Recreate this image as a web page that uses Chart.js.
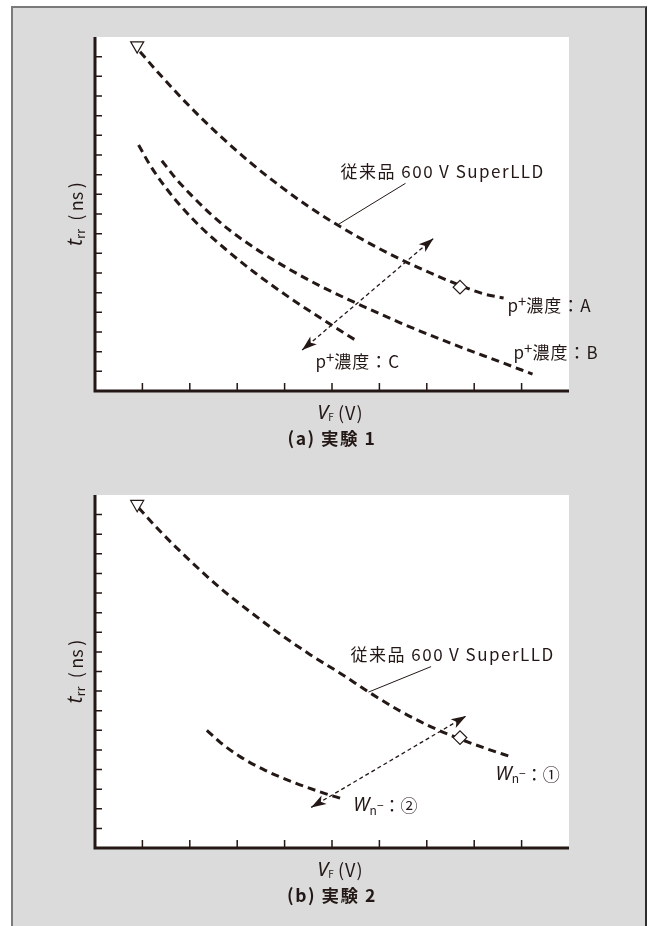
<!DOCTYPE html>
<html>
<head>
<meta charset="utf-8">
<script src="https://cdn.jsdelivr.net/npm/chart.js@4.4.0/dist/chart.umd.min.js"></script>
<style>
  html, body { margin: 0; padding: 0; background: #fff; }
  body { width: 648px; height: 926px; position: relative; overflow: hidden; }
  .frame { position: absolute; left: 11px; top: 6px; width: 632px; height: 940px; background: #dbdbdb;
           border-left: 2px solid #7a7a7a; border-top: 2px solid #7a7a7a; border-right: 2px solid #2e2e2e; }
  canvas { position: absolute; left: 0; }
  #chartA { top: 0; }
  #chartB { top: 458px; }
</style>
</head>
<body>
<div class="frame"></div>
<canvas id="chartA" width="648" height="460" style="width:648px;height:460px"></canvas>
<canvas id="chartB" width="648" height="468" style="width:648px;height:468px"></canvas>
<script>
// axis ticks (the figure has no tick labels)
var xTicks = [1, 2, 3, 4, 5, 6, 7, 8, 9];
var yTicks = [1, 2, 3, 4, 5, 6, 7, 8, 9, 10, 11, 12, 13, 14, 15, 16, 17];

// (a) 実験 1 : VF (x) vs trr (y), arbitrary units
var a_conv_vf  = [0.95, 1.37, 2.01, 2.64, 3.28, 3.91, 4.54, 5.18, 5.81, 6.44, 7.08, 7.71, 8.20, 8.62];
var a_conv_trr = [17.25, 16.09, 14.44, 12.97, 11.61, 10.41, 9.32, 8.35, 7.48, 6.70, 6.00, 5.36, 4.94, 4.73];
var a_B_vf  = [1.41, 1.69, 2.01, 2.43, 2.85, 3.38, 4.02, 4.75, 5.60, 6.44, 7.50, 8.56, 9.23];
var a_B_trr = [11.71, 10.85, 10.01, 9.02, 8.16, 7.25, 6.30, 5.34, 4.37, 3.47, 2.43, 1.47, 0.86];
var a_C_vf  = [0.92, 1.16, 1.48, 1.80, 2.22, 2.75, 3.38, 4.12, 4.86, 5.56];
var a_C_trr = [12.51, 11.49, 10.38, 9.43, 8.36, 7.22, 6.00, 4.72, 3.55, 2.49];
var a_triangle = [0.89, 17.56];
var a_diamond = [7.70, 5.28];
var a_arrow_vf = [4.37, 7.14];
var a_arrow_trr = [2.08, 7.76];
var a_leader_vf = [5.12, 6.55];
var a_leader_trr = [8.45, 10.56];

// (b) 実験 2
var b_conv_vf  = [0.92, 1.37, 2.01, 2.64, 3.28, 3.91, 4.54, 5.18, 5.81, 6.44, 7.08, 7.71, 8.24, 8.80];
var b_conv_trr = [17.35, 16.16, 14.64, 13.26, 12.03, 10.90, 9.86, 8.90, 7.90, 6.98, 6.19, 5.55, 5.08, 4.63];
var b_W2_vf  = [2.36, 2.64, 3.06, 3.59, 4.23, 4.75, 5.25];
var b_W2_trr = [6.00, 5.39, 4.66, 3.96, 3.31, 2.86, 2.48];
var b_triangle = [0.89, 17.53];
var b_diamond = [7.70, 5.63];
var b_arrow_vf = [4.56, 7.83];
var b_arrow_trr = [2.07, 6.73];
var b_leader_vf = [5.77, 7.09];
var b_leader_trr = [7.95, 9.25];

var FONT = '"Noto Sans CJK JP", "Noto Sans", sans-serif';
var ITALIC_FONT = '"Noto Sans", "Liberation Sans", sans-serif';
var INK = '#231815';

function pts(xs, ys) {
    return xs.map(function (x, i) { return { x: x, y: ys[i] } });
}

function curve(xs, ys) {
    return { data: pts(xs, ys), showLine: true, borderColor: INK, borderWidth: 3, borderDash: [8, 5],
             pointRadius: 0, cubicInterpolationMode: 'monotone', fill: false };
}

function thinLine(xs, ys, dash, width) {
    return { data: pts(xs, ys), showLine: true, borderColor: INK, borderWidth: width, borderDash: dash,
             pointRadius: 0, tension: 0, fill: false };
}

function marker(p, style, radius, rotation) {
    return { data: [{ x: p[0], y: p[1] }], showLine: false, pointStyle: style, pointRadius: radius,
             rotation: rotation, backgroundColor: '#fff', borderColor: INK, borderWidth: 1.2 };
}

// text runs: [text, size, dy, italic, letterSpacing, weight]
function setFont(ctx, r) {
    ctx.font = (r[3] ? 'italic ' : '') + (r[5] || 'normal') + ' ' + r[1] + 'px ' + (r[3] ? ITALIC_FONT : FONT);
    ctx.letterSpacing = (r[4] || 0) + 'px';
}
function runsWidth(ctx, runs) {
    var w = 0;
    runs.forEach(function (r) { setFont(ctx, r); w += ctx.measureText(r[0]).width });
    return w;
}
function drawRuns(ctx, x, y, runs) {
    var cx = x;
    runs.forEach(function (r) {
        setFont(ctx, r);
        ctx.fillText(r[0], cx, y + r[2]);
        cx += ctx.measureText(r[0]).width;
    });
}

function arrowHead(ctx, x1, y1, x2, y2) {
    var ang = Math.atan2(y2 - y1, x2 - x1);
    var c = Math.cos(ang), s = Math.sin(ang), len = 15, half = 5;
    ctx.beginPath();
    ctx.moveTo(x2, y2);
    ctx.lineTo(x2 - len * c + half * s, y2 - len * s - half * c);
    ctx.lineTo(x2 - len * 0.75 * c, y2 - len * 0.75 * s);
    ctx.lineTo(x2 - len * c - half * s, y2 - len * s + half * c);
    ctx.closePath();
    ctx.fill();
}

function panelPlugin(cfg) {
    return {
        id: 'panel',
        beforeDraw: function (chart) {
            var a = chart.chartArea, ctx = chart.ctx;
            ctx.save();
            ctx.fillStyle = '#fff';
            ctx.fillRect(a.left, a.top, a.right - a.left, a.bottom - a.top);
            ctx.restore();
        },
        afterDraw: function (chart) {
            var ctx = chart.ctx, a = chart.chartArea, xs = chart.scales.x, ys = chart.scales.y;
            ctx.save();
            ctx.strokeStyle = INK;
            ctx.fillStyle = INK;

            // inward ticks
            ctx.lineWidth = 1.5;
            ctx.beginPath();
            xTicks.forEach(function (v) {
                var px = xs.getPixelForValue(v);
                ctx.moveTo(px, a.bottom);
                ctx.lineTo(px, a.bottom - 8);
            });
            yTicks.forEach(function (v) {
                var py = ys.getPixelForValue(v);
                ctx.moveTo(a.left, py);
                ctx.lineTo(a.left + 7, py);
            });
            ctx.stroke();

            // axis lines
            ctx.lineWidth = 3;
            ctx.beginPath();
            ctx.moveTo(a.left, a.top);
            ctx.lineTo(a.left, a.bottom + 1.5);
            ctx.moveTo(a.left - 1.5, a.bottom);
            ctx.lineTo(a.right, a.bottom);
            ctx.stroke();

            // double arrow heads
            var x0 = xs.getPixelForValue(cfg.arrow[0][0]), y0 = ys.getPixelForValue(cfg.arrow[1][0]);
            var x1 = xs.getPixelForValue(cfg.arrow[0][1]), y1 = ys.getPixelForValue(cfg.arrow[1][1]);
            arrowHead(ctx, x1, y1, x0, y0);
            arrowHead(ctx, x0, y0, x1, y1);

            // labels
            ctx.textBaseline = 'middle';
            ctx.textAlign = 'left';
            cfg.labels.forEach(function (l) {
                drawRuns(ctx, xs.getPixelForValue(l.x), ys.getPixelForValue(l.y), l.runs);
            });

            // y title
            var yRuns = [['t', 21, 0, true], ['rr', 13, 4], ['  (\u2009ns\u2009)', 18, 0]];
            ctx.save();
            ctx.translate(a.left - 19, (a.top + a.bottom) / 2);
            ctx.rotate(-Math.PI / 2);
            drawRuns(ctx, -runsWidth(ctx, yRuns) / 2, 0, yRuns);
            ctx.restore();

            // x title
            var xRuns = [['V', 20, 0, true], ['F', 10, 4], [' (\u200aV\u200a)', 18, 0]];
            drawRuns(ctx, a.left + 245 - runsWidth(ctx, xRuns) / 2, a.bottom + 22, xRuns);

            // caption
            var cRuns = [[cfg.caption, 17.5, 0, false, 1.5, 'bold']];
            drawRuns(ctx, a.left + 237 - runsWidth(ctx, cRuns) / 2, a.bottom + 47.5, cRuns);
            ctx.restore();
        }
    };
}

function makePanel(id, datasets, pad, cfg) {
    return new Chart(document.getElementById(id), {
        type: 'scatter',
        data: { datasets: datasets },
        options: {
            responsive: false,
            animation: false,
            events: [],
            layout: { padding: pad },
            plugins: { legend: { display: false }, tooltip: { enabled: false } },
            scales: {
                x: { type: 'linear', min: 0, max: 10, display: false },
                y: { type: 'linear', min: 0, max: 18, display: false }
            }
        },
        plugins: [panelPlugin(cfg)]
    });
}

var convLabel = [['従来品 600\u2009V SuperLLD', 17, 0, false, 1.5]];

function pLabel(letter) {
    return [['p', 17, 0], ['+', 15, -4], ['濃度：' + letter, 17, 0, false, 1]];
}
function wLabel(mark) {
    return [['W', 19, 0, true], ['n', 12, 4], ['−', 12, -1], ['：' + mark, 17, 0]];
}

var chartA = makePanel('chartA', [
    marker(a_triangle, 'triangle', 7.5, 180),
    marker(a_diamond, 'rectRot', 6.8, 0),
    curve(a_conv_vf, a_conv_trr),
    curve(a_B_vf, a_B_trr),
    curve(a_C_vf, a_C_trr),
    thinLine(a_arrow_vf, a_arrow_trr, [4, 3], 1.3),
    thinLine(a_leader_vf, a_leader_trr, [], 1)
], { left: 95, top: 37, right: 79, bottom: 69 }, {
    arrow: [a_arrow_vf, a_arrow_trr],
    caption: '(a) 実験 1',
    labels: [
        { x: 5.18, y: 11.15, runs: convLabel },
        { x: 8.70, y: 4.37, runs: pLabel('A') },
        { x: 8.83, y: 1.95, runs: pLabel('B') },
        { x: 4.65, y: 1.49, runs: pLabel('C') }
    ]
});

var chartB = makePanel('chartB', [
    marker(b_triangle, 'triangle', 7.5, 180),
    marker(b_diamond, 'rectRot', 6.8, 0),
    curve(b_conv_vf, b_conv_trr),
    curve(b_W2_vf, b_W2_trr),
    thinLine(b_arrow_vf, b_arrow_trr, [4, 3], 1.3),
    thinLine(b_leader_vf, b_leader_trr, [], 1)
], { left: 95, top: 37, right: 79, bottom: 78 }, {
    arrow: [b_arrow_vf, b_arrow_trr],
    caption: '(b) 実験 2',
    labels: [
        { x: 5.39, y: 9.86, runs: convLabel },
        { x: 8.45, y: 3.76, runs: wLabel('①') },
        { x: 5.45, y: 2.14, runs: wLabel('②') }
    ]
});
</script>
</body>
</html>
